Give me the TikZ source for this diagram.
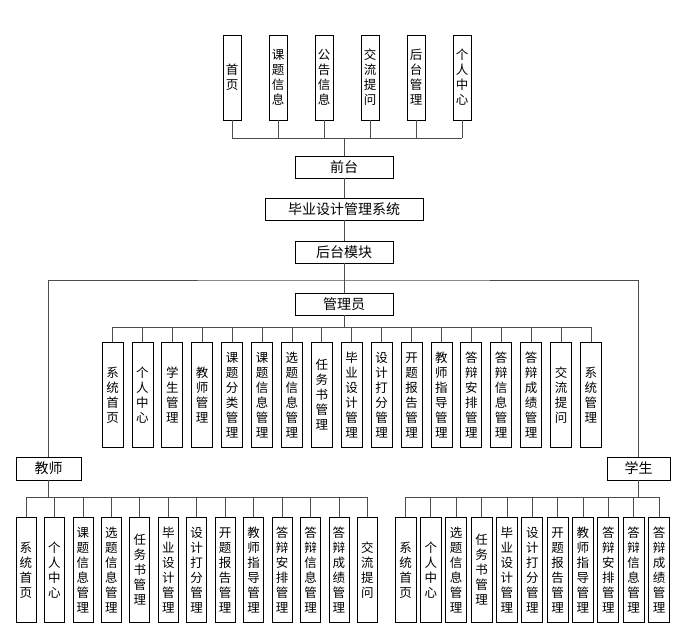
\documentclass[tikz,border=0pt]{standalone}
\usepackage{fontspec}
\setmainfont{Noto Sans CJK SC}
\usetikzlibrary{positioning,calc}

\begin{document}
\begin{tikzpicture}[x=1pt,y=-1pt,
    box/.style={draw=black, line width=0.8pt, fill=white, inner sep=0pt,
                font=\fontsize{12.5}{15}\selectfont},
    hbox/.style={box, minimum width=98pt, minimum height=22pt, font=\fontsize{14}{16}\selectfont},
    vbox/.style={box, minimum width=20pt, minimum height=105pt, align=center},
    tbox/.style={box, minimum width=18pt, minimum height=85pt, align=center},
    link/.style={draw=black!70, line width=0.8pt}]
    \useasboundingbox (0,0) rectangle (684,634);

    % front end
    \foreach \t [count=\i] in {{首\\页},{课\\题\\信\\息},{公\\告\\信\\息},{交\\流\\提\\问},{后\\台\\管\\理},{个\\人\\中\\心}}
        \node[tbox] (top\i) at ({232+46*(\i-1)},77.5) {\t};
    \node[hbox] (qiantai) at (344,167) {前台};
    \node[hbox, minimum width=158pt] (xitong) at (344,209) {毕业设计管理系统};
    \node[hbox] (houtai) at (344,252) {后台模块};
    \node[hbox] (guanli) at (344,304) {管理员};
    \node[hbox, minimum width=65pt, minimum height=23pt] (jiaoshi) at (48.5,468.5) {教师};
    \node[hbox, minimum width=63pt, minimum height=23pt] (xuesheng) at (638.5,468.5) {学生};

    \coordinate (topbus) at (344,138);
    \draw[link] (top1.south |- topbus) -- (top6.south |- topbus);
    \foreach \i in {1,...,6}
        \draw[link] (top\i) -- (top\i.south |- topbus);
    \draw[link] (topbus) -- (qiantai);
    \draw[link] (qiantai) -- (xitong);
    \draw[link] (xitong) -- (houtai);
    \draw[link] (houtai) -- (guanli);

    % back end roles
    \coordinate (bigbus) at (344,280);
    \draw[link] (jiaoshi.north) |- (bigbus) -| (xuesheng.north);

    % admin
    \foreach \t [count=\i] in {{系\\统\\首\\页},{个\\人\\中\\心},{学\\生\\管\\理},{教\\师\\管\\理},
        {课\\题\\分\\类\\管\\理},{课\\题\\信\\息\\管\\理},{选\\题\\信\\息\\管\\理},{任\\务\\书\\管\\理},
        {毕\\业\\设\\计\\管\\理},{设\\计\\打\\分\\管\\理},{开\\题\\报\\告\\管\\理},{教\\师\\指\\导\\管\\理},
        {答\\辩\\安\\排\\管\\理},{答\\辩\\信\\息\\管\\理},{答\\辩\\成\\绩\\管\\理},{交\\流\\提\\问},{系\\统\\管\\理}}
        \node[vbox, minimum width=21pt] (adm\i) at ({112.5+29.9*(\i-1)},395) {\t};
    \coordinate (admbus) at (344,327);
    \draw[link] (guanli) -- (admbus);
    \draw[link] (adm1.north |- admbus) -- (adm17.north |- admbus);
    \foreach \i in {1,...,17}
        \draw[link] (adm\i.north |- admbus) -- (adm\i);

    % teacher
    \foreach \t [count=\i] in {{系\\统\\首\\页},{个\\人\\中\\心},{课\\题\\信\\息\\管\\理},{选\\题\\信\\息\\管\\理},
        {任\\务\\书\\管\\理},{毕\\业\\设\\计\\管\\理},{设\\计\\打\\分\\管\\理},{开\\题\\报\\告\\管\\理},
        {教\\师\\指\\导\\管\\理},{答\\辩\\安\\排\\管\\理},{答\\辩\\信\\息\\管\\理},{答\\辩\\成\\绩\\管\\理},{交\\流\\提\\问}}
        \node[vbox] (tea\i) at ({26+28.45*(\i-1)},570) {\t};
    \coordinate (teabus) at (48.5,497);
    \draw[link] (jiaoshi) -- (teabus);
    \draw[link] (tea1.north |- teabus) -- (tea13.north |- teabus);
    \foreach \i in {1,...,13}
        \draw[link] (tea\i.north |- teabus) -- (tea\i);

    % student
    \foreach \t [count=\i] in {{系\\统\\首\\页},{个\\人\\中\\心},{选\\题\\信\\息\\管\\理},{任\\务\\书\\管\\理},
        {毕\\业\\设\\计\\管\\理},{设\\计\\打\\分\\管\\理},{开\\题\\报\\告\\管\\理},{教\\师\\指\\导\\管\\理},
        {答\\辩\\安\\排\\管\\理},{答\\辩\\信\\息\\管\\理},{答\\辩\\成\\绩\\管\\理}}
        \node[vbox, minimum width=21pt] (stu\i) at ({405.5+25.35*(\i-1)},570) {\t};
    \coordinate (stubus) at (638.5,497);
    \draw[link] (xuesheng) -- (stubus);
    \draw[link] (stu1.north |- stubus) -- (stu11.north |- stubus);
    \foreach \i in {1,...,11}
        \draw[link] (stu\i.north |- stubus) -- (stu\i);
\end{tikzpicture}
\end{document}
